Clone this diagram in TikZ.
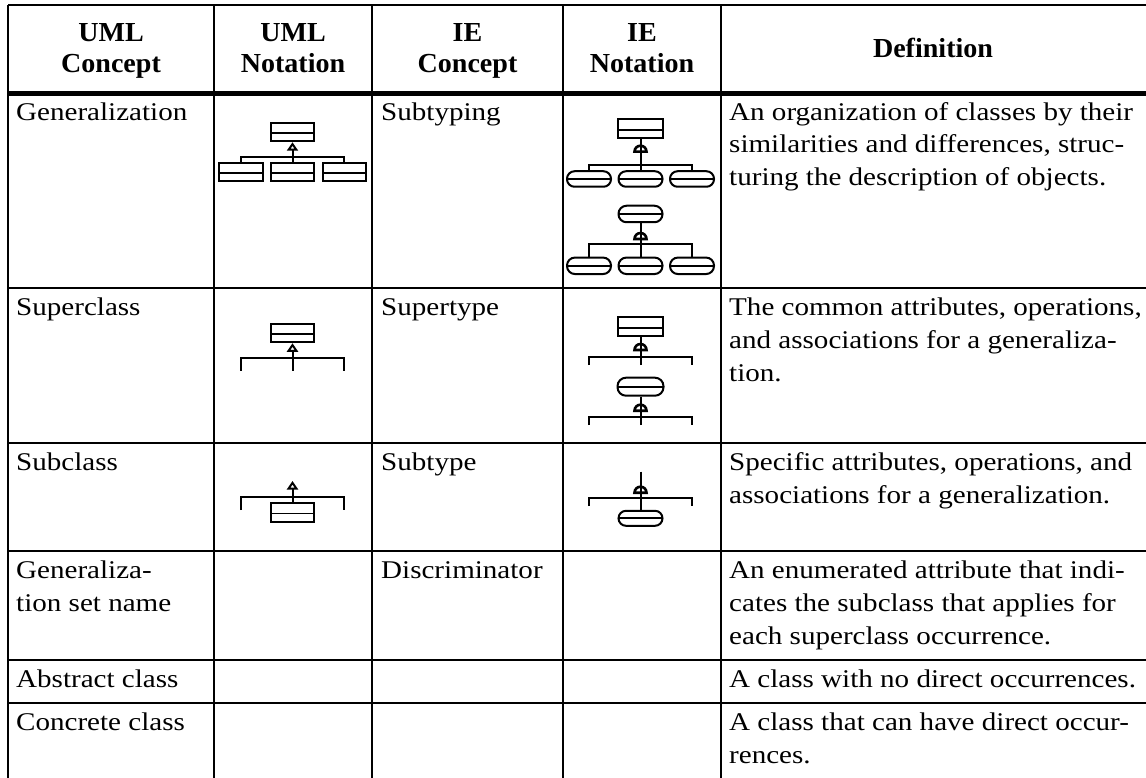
\documentclass[tikz,border=0pt]{standalone}
\usepackage{fontspec}
\newfontfamily\tabrm{Liberation Serif}[FakeStretch=1.14]
\newfontfamily\headrm{Liberation Serif}[FakeStretch=1.02]
\usetikzlibrary{arrows.meta,calc}
\newcommand\cellfont{\tabrm\fontsize{25.5}{33}\selectfont}
\newcommand\headfont{\headrm\bfseries\fontsize{27.5}{31}\selectfont}

\tikzset{
  gridline/.style={line width=2pt},
  headline/.style={line width=5pt},
  cell/.style={anchor=base west, inner sep=0pt, font=\cellfont},
  head/.style={anchor=base, inner sep=0pt, font=\headfont},
  link/.style={line width=2pt},
  divided/.style={path picture={\draw[line width=1.7pt]
     ($(path picture bounding box.north west)!#1!(path picture bounding box.south west)$) --
     ($(path picture bounding box.north east)!#1!(path picture bounding box.south east)$);}},
  classbox/.style={draw, line width=2pt, inner sep=0pt,
     minimum width=43.5pt, minimum height=18.5pt, divided=0.57},
  entitybox/.style={draw, line width=2pt, inner sep=0pt,
     minimum width=44.5pt, minimum height=19pt, divided=0.6},
  entityoval/.style={draw, line width=2pt, inner sep=0pt, rounded corners=7.5pt,
     minimum width=44pt, minimum height=15.5pt, divided=0.5},
  gentip/.style={-{Triangle[open, width=11pt, length=8.5pt, line width=2pt]}},
  subsym/.pic={\draw[line width=2.6pt] (-6,0) arc[start angle=180, end angle=360, radius=6] -- cycle;},
}

\begin{document}
\begin{tikzpicture}[x=1pt, y=-1pt]
\useasboundingbox (0,0) rectangle (1146,778);

% ---- table rules ----
\draw[gridline] (8,5) -- (1146,5);
\draw[headline] (8,93.5) -- (1146,93.5);
\foreach \yy in {288,443,551,660,703}
  \draw[gridline] (8,\yy) -- (1146,\yy);
\foreach \xx in {8,214,372,563,721}
  \draw[gridline] (\xx,5) -- (\xx,778);

% ---- header ----
\node[head] (h1a) at (111,42) {UML};
\node[head] (h1b) at (111,73) {Concept};
\node[head] (h2a) at (293,42) {UML};
\node[head] (h2b) at (293,73) {Notation};
\node[head] (h3a) at (467.5,42) {IE};
\node[head] (h3b) at (467.5,73) {Concept};
\node[head] (h4a) at (642,42) {IE};
\node[head] (h4b) at (642,73) {Notation};
\node[head] (h5) at (933,57.5) {Definition};

% ---- UML concept column ----
\node[cell] (c1r1) at (16,120.5) {Generalization};
\node[cell] (c1r2) at (16,315) {Superclass};
\node[cell] (c1r3) at (16,470) {Subclass};
\node[cell] (c1r4a) at (16,578) {Generaliza-};
\node[cell] (c1r4b) at (16,611) {tion set name};
\node[cell] (c1r5) at (16,687) {Abstract class};
\node[cell] (c1r6) at (16,730) {Concrete class};

% ---- IE concept column ----
\node[cell] (c3r1) at (381,120.5) {Subtyping};
\node[cell] (c3r2) at (381,315) {Supertype};
\node[cell] (c3r3) at (381,470) {Subtype};
\node[cell] (c3r4) at (381,578) {Discriminator};

% ---- definitions ----
\node[cell] (d1a) at (729,120.5) {An organization of classes by their};
\node[cell] (d1b) at (729,153) {similarities and differences, struc-};
\node[cell] (d1c) at (729,186) {turing the description of objects.};
\node[cell] (d2a) at (729,315) {The common attributes, operations,};
\node[cell] (d2b) at (729,348) {and associations for a generaliza-};
\node[cell] (d2c) at (729,381) {tion.};
\node[cell] (d3a) at (729,470) {Specific attributes, operations, and};
\node[cell] (d3b) at (729,503) {associations for a generalization.};
\node[cell] (d4a) at (729,578) {An enumerated attribute that indi-};
\node[cell] (d4b) at (729,611) {cates the subclass that applies for};
\node[cell] (d4c) at (729,644) {each superclass occurrence.};
\node[cell] (d5a) at (729,687) {A class with no direct occurrences.};
\node[cell] (d6a) at (729,730) {A class that can have direct occur-};
\node[cell] (d6b) at (729,763) {rences.};

% ---- UML notation: generalization ----
\node[classbox] (u1sup) at (292.5,132) {};
\node[classbox] (u1a) at (240.8,172) {};
\node[classbox] (u1b) at (292.5,172) {};
\node[classbox] (u1c) at (344.3,172) {};
\coordinate (u1j) at (292.5,157.3);
\draw[link] (u1a.north) |- (u1j) -| (u1c.north);
\draw[link] (u1b.north) -- (u1j);
\draw[link, gentip] (u1j) -- (u1sup.south);

% ---- UML notation: superclass ----
\node[classbox] (u2sup) at (292.5,333) {};
\coordinate (u2j) at (292.5,357.7);
\coordinate (u2l) at (240.8,370.7);
\coordinate (u2m) at (292.5,370.7);
\coordinate (u2r) at (344.3,370.7);
\draw[link] (u2l) |- (u2j) -| (u2r);
\draw[link] (u2m) -- (u2j);
\draw[link, gentip] (u2j) -- (u2sup.south);

% ---- UML notation: subclass ----
\coordinate (u3t) at (292.5,481);
\coordinate (u3j) at (292.5,497.3);
\coordinate (u3l) at (240.8,510);
\coordinate (u3r) at (344.3,510);
\node[classbox] (u3sub) at (292.5,512.3) {};
\draw[link] (u3l) |- (u3j) -| (u3r);
\draw[link] (u3sub.north) -- (u3j);
\draw[link, gentip] (u3j) -- (u3t);

% ---- IE notation: subtyping ----
\node[entitybox] (e1sup) at (640.5,128.3) {};
\node[entityoval] (e1a) at (589,179) {};
\node[entityoval] (e1b) at (640.5,179) {};
\node[entityoval] (e1c) at (692,179) {};
\coordinate (e1j) at (640.5,165);
\draw[link] (e1a.north) |- (e1j) -| (e1c.north);
\draw[link] (e1b.north) -- (e1j);
\draw[link] (e1sup.south) -- (e1j);
\pic at (640.5,151.7) {subsym};

\node[entityoval, minimum height=16.5pt, rounded corners=8pt] (e1top) at (640.5,214) {};
\node[entityoval, minimum height=16.5pt, rounded corners=8pt] (e1d) at (589,265.8) {};
\node[entityoval, minimum height=16.5pt, rounded corners=8pt] (e1e) at (640.5,265.8) {};
\node[entityoval, minimum height=16.5pt, rounded corners=8pt] (e1f) at (692,265.8) {};
\coordinate (e1k) at (640.5,244.3);
\draw[link] (e1d.north) |- (e1k) -| (e1f.north);
\draw[link] (e1e.north) -- (e1k);
\draw[link] (e1top.south) -- (e1k);
\pic at (640.5,239) {subsym};

% ---- IE notation: supertype ----
\node[entitybox] (e2sup) at (640.5,326.3) {};
\coordinate (e2j) at (640.5,356.7);
\coordinate (e2l) at (589,365);
\coordinate (e2m) at (640.5,365);
\coordinate (e2r) at (692,365);
\draw[link] (e2l) |- (e2j) -| (e2r);
\draw[link] (e2m) -- (e2j);
\draw[link] (e2sup.south) -- (e2j);
\pic at (640.5,350) {subsym};

\node[entityoval, minimum width=46pt, minimum height=18pt, rounded corners=8.5pt] (e2mid) at (640.5,386.7) {};
\coordinate (e2k) at (640.5,416.7);
\coordinate (e2l2) at (589,425);
\coordinate (e2m2) at (640.5,425);
\coordinate (e2r2) at (692,425);
\draw[link] (e2l2) |- (e2k) -| (e2r2);
\draw[link] (e2m2) -- (e2k);
\draw[link] (e2mid.south) -- (e2k);
\pic at (640.5,410.7) {subsym};

% ---- IE notation: subtype ----
\coordinate (e3t) at (640.5,471.7);
\coordinate (e3j) at (640.5,498.3);
\coordinate (e3l) at (589,506);
\coordinate (e3r) at (692,506);
\node[entityoval, minimum height=15pt] (e3sub) at (640.5,518.3) {};
\draw[link] (e3l) |- (e3j) -| (e3r);
\draw[link] (e3sub.north) -- (e3j);
\draw[link] (e3t) -- (e3j);
\pic at (640.5,492.7) {subsym};

\end{tikzpicture}
\end{document}
